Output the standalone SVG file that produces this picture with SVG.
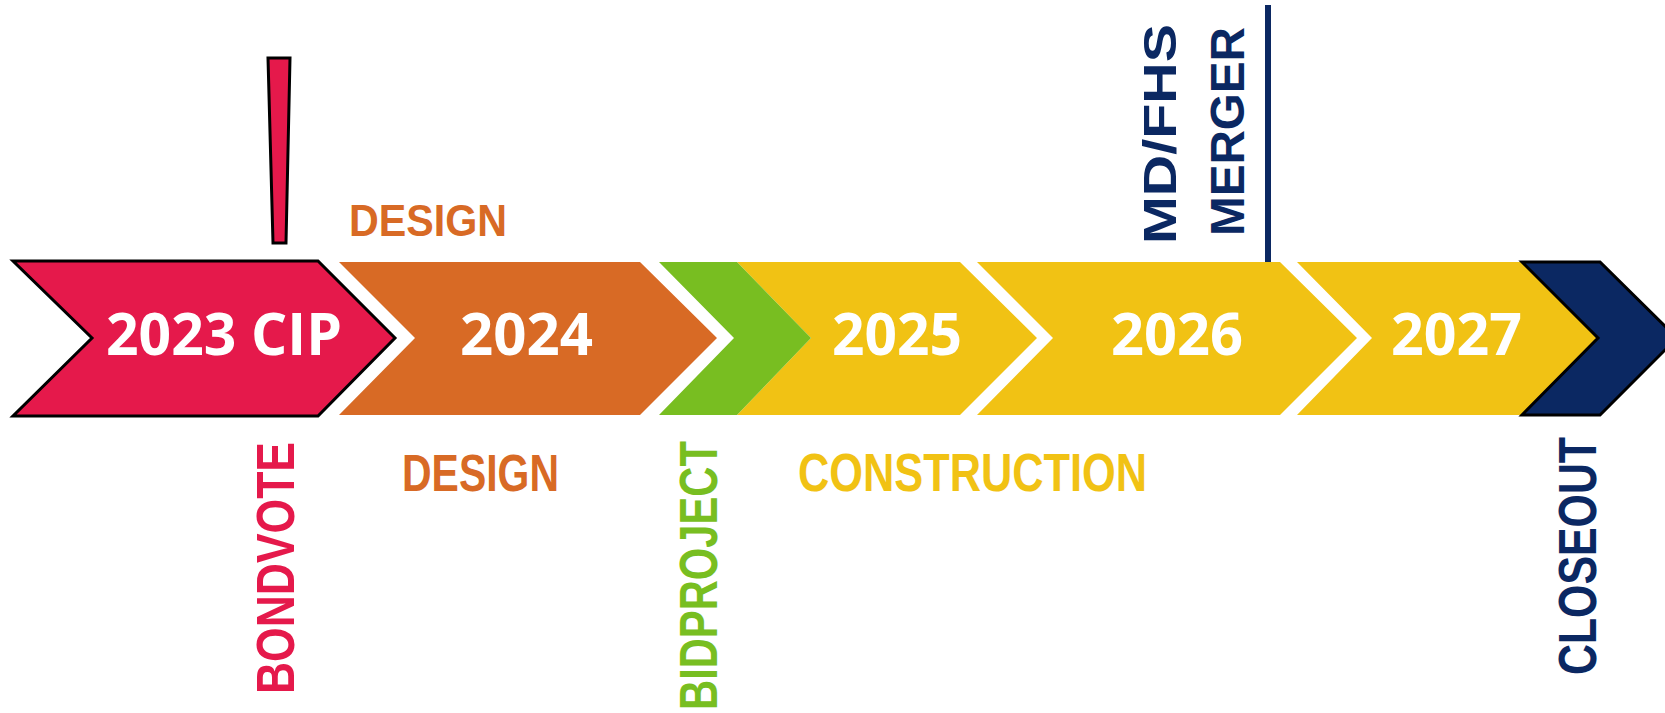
<svg xmlns="http://www.w3.org/2000/svg" width="1665" height="713" viewBox="0 0 1665 713">
<style>
.yr{font-family:"Open Sans","Liberation Sans",sans-serif;font-weight:700;font-size:59px;fill:#ffffff;text-anchor:start}
.lb{font-family:"Liberation Sans","Arial",sans-serif;font-weight:700}
.stk{stroke:#000000;stroke-width:3;stroke-linejoin:miter}
</style>
<rect width="1665" height="713" fill="#ffffff"/>
<g id="seg-2023">
<polygon class="stk" points="13,261 318,261 395,338 318,416 13,416 92,338" fill="#E5194B"/>
<text class="yr" x="106" y="355" textLength="236" lengthAdjust="spacingAndGlyphs">2023 CIP</text>
</g>
<g id="seg-2024">
<polygon points="339,262 640,262 717,338 640,415 339,415 415,338" fill="#D86A25"/>
<text class="yr" x="460" y="355" textLength="133" lengthAdjust="spacingAndGlyphs">2024</text>
</g>
<g id="seg-2025">
<polygon points="737,262 960,262 1037,338 960,415 737,415 811,338" fill="#F1C214"/>
<text class="yr" x="832" y="355" textLength="130" lengthAdjust="spacingAndGlyphs">2025</text>
</g>
<g id="seg-bid">
<polygon points="659,262 737,262 811,338 737,415 659,415 734,338" fill="#78BE21"/>
</g>
<g id="seg-2026">
<polygon points="977,262 1280,262 1357,338 1280,415 977,415 1053,338" fill="#F1C214"/>
<text class="yr" x="1111" y="355" textLength="132" lengthAdjust="spacingAndGlyphs">2026</text>
</g>
<g id="seg-2027">
<polygon points="1297,262 1522,262 1598,338 1522,415 1297,415 1372,338" fill="#F1C214"/>
<text class="yr" x="1391" y="355" textLength="131" lengthAdjust="spacingAndGlyphs">2027</text>
</g>
<g id="seg-closeout">
<polygon class="stk" points="1522,262 1600,262 1677,338 1600,415 1522,415 1598,338" fill="#0B2862"/>
</g>
<g id="connectors">
<polygon id="bond-marker" class="stk" points="268,58 290,58 286,243 273,243" fill="#E5194B"/>
<line id="merger-line" x1="1268" y1="5" x2="1268" y2="262" stroke="#0B2862" stroke-width="6"/>
</g>
<g id="label-design-top">
<text class="lb" x="349" y="236" font-size="45" fill="#D86A25" textLength="158" lengthAdjust="spacingAndGlyphs">DESIGN</text>
</g>
<g id="label-merger">
<text class="lb" transform="translate(1176,244) rotate(-90)" font-size="46" fill="#0B2862" textLength="220" lengthAdjust="spacingAndGlyphs">MD/FHS</text>
<text class="lb" transform="translate(1244,236) rotate(-90)" font-size="48" fill="#0B2862" textLength="209" lengthAdjust="spacingAndGlyphs">MERGER</text>
</g>
<g id="label-bondvote">
<text class="lb" transform="translate(294,694) rotate(-90)" font-size="53" fill="#E5194B" textLength="252" lengthAdjust="spacingAndGlyphs">BONDVOTE</text>
</g>
<g id="label-design-bottom">
<text class="lb" x="402" y="491" font-size="52" fill="#D86A25" textLength="157" lengthAdjust="spacingAndGlyphs">DESIGN</text>
</g>
<g id="label-bidproject">
<text class="lb" transform="translate(717,710) rotate(-90)" font-size="53" fill="#78BE21" textLength="269" lengthAdjust="spacingAndGlyphs">BIDPROJECT</text>
</g>
<g id="label-construction">
<text class="lb" x="798" y="491" font-size="53" fill="#F1C214" textLength="349" lengthAdjust="spacingAndGlyphs">CONSTRUCTION</text>
</g>
<g id="label-closeout">
<text class="lb" transform="translate(1596,675) rotate(-90)" font-size="53" fill="#0B2862" textLength="238" lengthAdjust="spacingAndGlyphs">CLOSEOUT</text>
</g>
</svg>
